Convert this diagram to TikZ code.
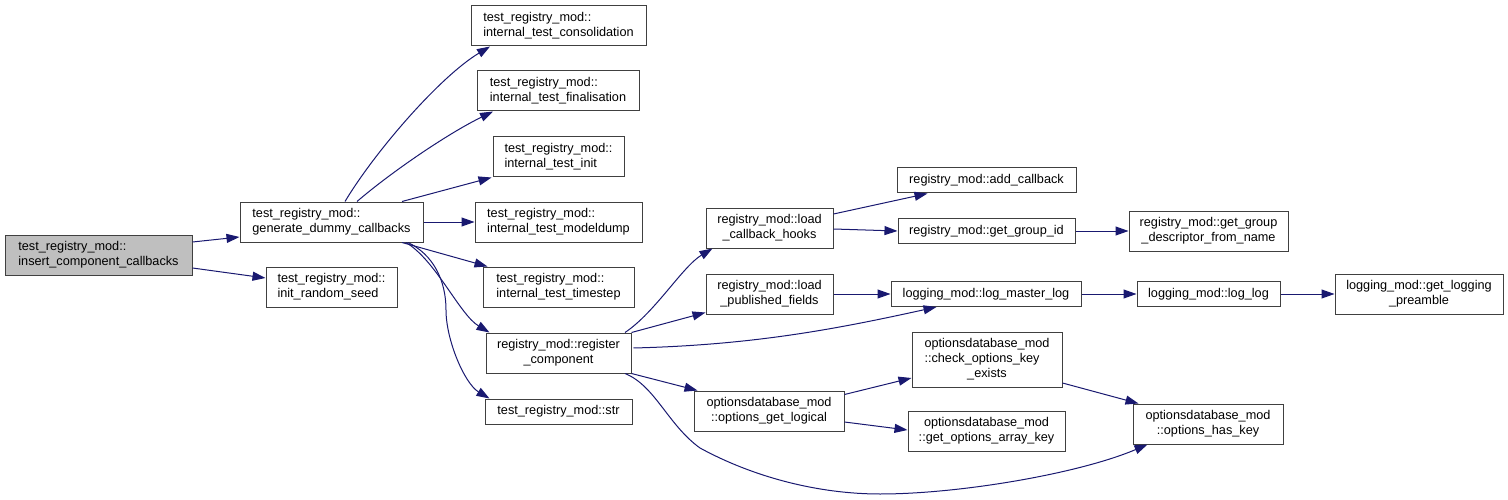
\documentclass[tikz,border=0pt]{standalone}
\usepackage{fontspec}
\setmainfont{Liberation Sans}
\usetikzlibrary{arrows.meta}
\definecolor{edgecol}{HTML}{191970}
\definecolor{boxline}{HTML}{404040}
\definecolor{rootfill}{HTML}{BFBFBF}
\begin{document}
\begin{tikzpicture}[x=1pt,y=-1pt,
  box/.style={draw=boxline, line width=1pt, inner sep=0pt, align=center, font=\fontsize{12.7}{15}\selectfont},
  lbox/.style={box, align=left},
  edge/.style={draw=edgecol, line width=1pt, -{Triangle[length=13pt,width=9pt]}}]
\useasboundingbox (0,0) rectangle (1508,500);

% nodes
\node[lbox, fill=rootfill, minimum width=187pt, minimum height=40pt] (insert) at (98.5,255) {test\_registry\_mod::\\insert\_component\_callbacks};
\node[lbox, minimum width=183pt, minimum height=40pt] (generate) at (331.5,222) {test\_registry\_mod::\\generate\_dummy\_callbacks};
\node[lbox, minimum width=131pt, minimum height=40pt] (initseed) at (331.5,287) {test\_registry\_mod::\\init\_random\_seed};
\node[lbox, minimum width=175pt, minimum height=40pt] (consol) at (558.5,26) {test\_registry\_mod::\\internal\_test\_consolidation};
\node[lbox, minimum width=162pt, minimum height=40pt] (final) at (558,91) {test\_registry\_mod::\\internal\_test\_finalisation};
\node[lbox, minimum width=131pt, minimum height=40pt] (init) at (558.5,157) {test\_registry\_mod::\\internal\_test\_init};
\node[lbox, minimum width=167pt, minimum height=40pt] (modeldump) at (558.5,222) {test\_registry\_mod::\\internal\_test\_modeldump};
\node[lbox, minimum width=151pt, minimum height=40pt] (timestep) at (558.5,287) {test\_registry\_mod::\\internal\_test\_timestep};
\node[box, minimum width=145pt, minimum height=40pt] (register) at (558.5,353) {registry\_mod::register\\\_component};
\node[box, minimum width=147pt, minimum height=25pt] (str) at (558.5,411.5) {test\_registry\_mod::str};
\node[box, minimum width=127pt, minimum height=40pt] (lch) at (769.5,228) {registry\_mod::load\\\_callback\_hooks};
\node[box, minimum width=127pt, minimum height=40pt] (lpf) at (769.5,294) {registry\_mod::load\\\_published\_fields};
\node[box, minimum width=150pt, minimum height=40pt] (ogl) at (769,411) {optionsdatabase\_mod\\::options\_get\_logical};
\node[box, minimum width=179pt, minimum height=25pt] (addcb) at (986.5,180.5) {registry\_mod::add\_callback};
\node[box, minimum width=177pt, minimum height=25pt] (ggid) at (986.5,231) {registry\_mod::get\_group\_id};
\node[box, minimum width=159pt, minimum height=40pt] (ggd) at (1208.5,231) {registry\_mod::get\_group\\\_descriptor\_from\_name};
\node[box, minimum width=190pt, minimum height=25pt] (lml) at (986,294) {logging\_mod::log\_master\_log};
\node[box, minimum width=143pt, minimum height=25pt] (ll) at (1208.5,294) {logging\_mod::log\_log};
\node[box, minimum width=150pt, minimum height=55pt] (coke) at (987,359.5) {\begin{tabular}{@{}l@{}}optionsdatabase\_mod\\::check\_options\_key\\\multicolumn{1}{@{}c@{}}{\_exists}\end{tabular}};
\node[box, minimum width=157pt, minimum height=40pt] (goak) at (986.5,431) {optionsdatabase\_mod\\::get\_options\_array\_key};
\node[box, minimum width=150pt, minimum height=40pt] (ohk) at (1208,424) {optionsdatabase\_mod\\::options\_has\_key};
\node[box, minimum width=168pt, minimum height=40pt] (glp) at (1419,294) {logging\_mod::get\_logging\\\_preamble};

% edges
\draw[edge] ([shift={(0,-13)}]insert.east) -- ([shift={(0,15)}]generate.west);
\draw[edge] ([shift={(0,13)}]insert.east) -- ([shift={(0,-9)}]initseed.west);

\draw[edge] ([shift={(13.5,0)}]generate.north) .. controls +(30,-50) and +(-50,30) .. ([shift={(-68.5,0)}]consol.south);
\draw[edge] ([shift={(25.5,0)}]generate.north) .. controls +(35,-30) and +(-45,22) .. ([shift={(-65,0)}]final.south);
\draw[edge] ([shift={(70.5,0)}]generate.north) -- ([shift={(-1,0)}]init.south west);
\draw[edge] (generate.east) -- (modeldump.west);
\draw[edge] ([shift={(70.5,0)}]generate.south) -- ([shift={(5,0)}]timestep.north west);
\draw[edge] ([shift={(74.5,0)}]generate.south) .. controls +(30,18) and +(-30,-18) .. ([shift={(4,0)}]register.north west);
\draw[edge] ([shift={(76.5,0)}]generate.south) .. controls +(25,12) and +(0,-30) .. (446,310) .. controls +(0,30) and +(-25,-15) .. ([shift={(5,0)}]str.north west);

\draw[edge] ([shift={(66.5,0)}]register.north) .. controls +(30,-20) and +(-30,18) .. ([shift={(7,0)}]lch.south west);
\draw[edge] (register.north east) -- ([shift={(0,-2)}]lpf.south west);
\draw[edge] ([shift={(2,-5)}]register.east) .. controls +(120,-3) and +(-100,22) .. ([shift={(46,0)}]lml.south west);
\draw[edge] (register.south east) -- ([shift={(4,0)}]ogl.north west);
\draw[edge] ([shift={(66.5,0)}]register.south) .. controls +(30,12) and +(-32,-23) .. (700,448) .. controls +(55,30) and +(-60,0) .. (880,494) .. controls +(80,0) and +(-68,29) .. ([shift={(15,0)}]ohk.south west);

\draw[edge] ([shift={(0,-14)}]lch.east) -- ([shift={(31,0)}]addcb.south west);
\draw[edge] ([shift={(0,1)}]lch.east) -- (ggid.west);
\draw[edge] (ggid.east) -- (ggd.west);
\draw[edge] (lpf.east) -- (lml.west);
\draw[edge] (lml.east) -- (ll.west);
\draw[edge] (ll.east) -- (glp.west);

\draw[edge] ([shift={(0,4)}]ogl.north east) -- ([shift={(0,18.5)}]coke.west);
\draw[edge] ([shift={(0,11)}]ogl.east) -- ([shift={(0,-1)}]goak.west);
\draw[edge] ([shift={(0,23.5)}]coke.east) -- ([shift={(6,0)}]ohk.north west);
\end{tikzpicture}
\end{document}
